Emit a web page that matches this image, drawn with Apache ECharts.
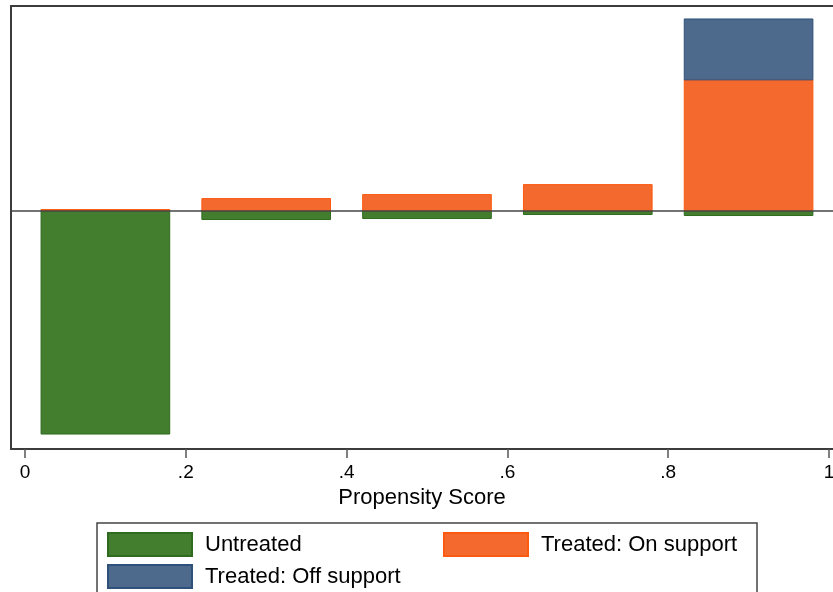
<!DOCTYPE html>
<html>
<head>
<meta charset="utf-8">
<script src="https://cdn.jsdelivr.net/npm/echarts@6/dist/echarts.min.js"></script>
<style>
  html, body { margin: 0; padding: 0; background: #fff; }
  #main { width: 833px; height: 592px; }
</style>
</head>
<body>
<div id="main"></div>
<script>
// bins of the propensity score (bars drawn from lo to hi)
const binLo = [0.02, 0.22, 0.42, 0.62, 0.82];
const binHi = [0.18, 0.38, 0.58, 0.78, 0.98];
// frequencies, untreated drawn below zero
const untreated = [-224, -9, -8, -4, -5];
const onSupport = [1, 12, 16, 26, 131];
const offSupport = [0, 0, 0, 0, 61];
// x axis ticks
const xTicks = [0, 0.2, 0.4, 0.6, 0.8, 1];
const xTickLabels = ['0', '.2', '.4', '.6', '.8', '1'];

const FONT = 'Liberation Sans, Arial, sans-serif';

// build [x0, x1, yBottom, yTop] rows
function rows(base, vals) {
  return vals.map((v, i) => {
    let b = base ? base[i] : 0;
    return [binLo[i], binHi[i], Math.min(b, b + v), Math.max(b, b + v)];
  });
}

function makeRender(fill, stroke) {
  return function (params, api) {
    if (api.value(2) === api.value(3)) return null;
    let p0 = api.coord([api.value(0), api.value(3)]);
    let p1 = api.coord([api.value(1), api.value(2)]);
    return {
      type: 'rect',
      shape: { x: p0[0], y: p0[1], width: p1[0] - p0[0], height: p1[1] - p0[1] },
      style: { fill: fill, stroke: stroke, lineWidth: 1 }
    };
  };
}

function barSeries(name, data, fill, stroke) {
  return {
    name: name,
    type: 'custom',
    z: 3,
    renderItem: makeRender(fill, stroke),
    itemStyle: { color: fill, borderColor: stroke, borderWidth: 1 },
    encode: { x: [0, 1], y: [2, 3] },
    data: data
  };
}

let chart = echarts.init(document.getElementById('main'), null, { renderer: 'canvas' });

let frameLine = { color: '#3c3c3c', width: 2 };
let xMin = -0.0174, xMax = 1.005;

let option = {
  animation: false,
  backgroundColor: '#fff',
  textStyle: { fontFamily: FONT },
  grid: { left: 11, right: 0, top: 6, bottom: 143, outerBoundsMode: 'none', containLabel: false },
  xAxis: [
    {
      type: 'value',
      min: xMin,
      max: xMax,
      name: 'Propensity Score',
      nameLocation: 'middle',
      nameGap: 36,
      nameTextStyle: { fontSize: 22, color: '#000', fontFamily: FONT },
      axisLine: { show: true, onZero: false, lineStyle: frameLine },
      splitLine: { show: false },
      axisTick: {
        show: true, inside: false, length: 9,
        customValues: xTicks,
        lineStyle: { color: '#555', width: 1.5 }
      },
      axisLabel: {
        customValues: xTicks,
        margin: 14,
        fontSize: 19,
        color: '#000',
        fontFamily: FONT,
        formatter: v => xTickLabels[xTicks.indexOf(v)]
      }
    },
    {
      type: 'value',
      position: 'top',
      min: xMin,
      max: xMax,
      axisLine: { show: true, onZero: false, lineStyle: frameLine },
      axisTick: { show: false },
      axisLabel: { show: false },
      splitLine: { show: false }
    }
  ],
  yAxis: {
    type: 'value',
    min: -239,
    max: 205,
    axisLine: { show: true, onZero: false, lineStyle: frameLine },
    axisTick: { show: false },
    axisLabel: { show: false },
    splitLine: { show: false }
  },
  legend: [
    {
      left: 107, top: 532, orient: 'vertical', padding: 0,
      itemWidth: 84, itemHeight: 23, itemGap: 7,
      icon: 'rect', selectedMode: false,
      data: ['Untreated', 'Treated: Off support'],
      textStyle: { fontSize: 22, color: '#000', fontFamily: FONT, padding: [0, 0, 0, 8] }
    },
    {
      left: 443, top: 532, orient: 'vertical', padding: 0,
      itemWidth: 84, itemHeight: 23,
      icon: 'rect', selectedMode: false,
      data: ['Treated: On support'],
      textStyle: { fontSize: 22, color: '#000', fontFamily: FONT, padding: [0, 0, 0, 8] }
    }
  ],
  graphic: [
    {
      type: 'rect',
      shape: { x: 97, y: 523, width: 660, height: 120 },
      style: { fill: 'none', stroke: '#444', lineWidth: 1.5 },
      z: 0
    }
  ],
  series: [
    {
      name: 'zero',
      type: 'line',
      data: [],
      z: 1,
      markLine: {
        silent: true,
        symbol: 'none',
        label: { show: false },
        lineStyle: { color: '#444', width: 1.5, type: 'solid' },
        data: [{ yAxis: 0 }]
      }
    },
    barSeries('Untreated', rows(null, untreated), '#437e2f', '#2f6b1f'),
    barSeries('Treated: On support', rows(null, onSupport), '#f3692e', '#fc5a10'),
    barSeries('Treated: Off support', rows(onSupport, offSupport), '#4d6a8d', '#2f507a')
  ]
};

chart.setOption(option);
</script>
</body>
</html>
